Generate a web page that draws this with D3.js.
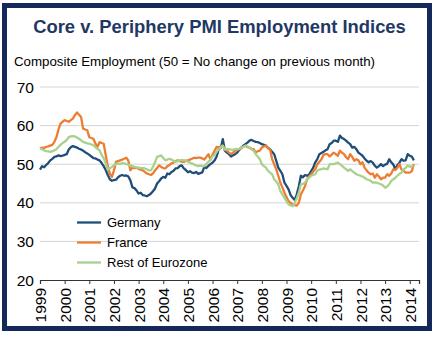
<!DOCTYPE html>
<html>
<head>
<meta charset="utf-8">
<script src="https://cdn.jsdelivr.net/npm/d3@7"></script>
<style>
  body { margin: 0; background: #fff; }
  svg { display: block; font-family: "Liberation Sans", Arial, sans-serif; }
</style>
</head>
<body>
<div id="chart"></div>
<script>
// monthly values, Jan 1999 .. Mar 2014
let germany = [
    48.6, 49.5, 49.2, 49.8, 50.3, 51.0, 51.4, 51.9, 52.0, 52.3, 52.1, 52.2,
    52.4, 52.6, 53.8, 54.4, 54.7, 54.5, 54.3, 54.0, 53.8, 53.5, 53.1, 52.8,
    52.4, 52.0, 51.6, 51.5, 51.2, 51.0, 50.3, 49.5, 48.5, 47.2, 46.1, 45.7,
    45.9, 46.0, 46.6, 47.0, 47.2, 47.0, 47.1, 46.8, 45.8, 44.0, 43.8, 43.2,
    42.4, 42.6, 42.0, 41.9, 41.7, 42.0, 42.4, 43.0, 43.7, 45.0, 45.6, 46.3,
    46.7, 46.5, 47.6, 47.4, 48.0, 48.3, 48.9, 49.0, 49.5, 49.7, 48.9, 48.5,
    47.9, 48.2, 47.8, 47.7, 48.0, 47.5, 47.7, 47.9, 49.3, 49.0, 49.6, 50.0,
    50.4, 51.0, 52.0, 53.9, 54.2, 56.5, 53.5, 53.0, 52.6, 52.0, 52.3, 52.6,
    53.0, 53.7, 54.3, 54.8, 55.2, 55.6, 56.1, 56.3, 56.0, 55.8, 55.7, 55.5,
    55.2, 55.0, 54.8, 54.2, 53.9, 53.2, 52.6, 50.9, 49.1, 48.3, 47.4, 45.2,
    44.4, 43.5, 42.0, 41.3, 40.7, 42.2, 44.3, 47.0, 46.6, 47.2, 47.0, 47.3,
    48.2, 49.1, 50.5, 51.3, 52.6, 52.9, 53.2, 53.6, 53.9, 55.2, 55.5, 56.1,
    56.1, 55.8, 57.4, 56.8, 56.5, 56.1, 55.6, 55.2, 54.3, 54.5, 53.9, 53.0,
    52.6, 52.2, 51.5, 50.9, 50.5, 50.8, 50.4, 49.6, 49.1, 49.5, 50.0, 49.5,
    49.9, 50.1, 51.3, 50.5, 49.9, 48.7, 49.8, 50.4, 51.3, 50.9, 51.0, 52.6,
    52.2, 52.0, 51.0
]
let france = [
    54.1, 54.3, 54.2, 54.5, 54.6, 54.8, 55.0, 55.8, 57.0, 59.0, 60.5, 61.0,
    61.4, 61.2, 61.0, 61.4, 61.8, 62.7, 63.4, 62.8, 62.2, 59.2, 59.0, 58.8,
    57.0, 56.8, 56.6, 55.3, 54.5, 55.7, 55.5, 55.3, 52.4, 49.5, 47.5, 46.7,
    48.4, 50.6, 50.8, 51.0, 51.2, 51.4, 51.7, 50.9, 48.4, 49.1, 49.0, 49.1,
    48.8, 48.6, 48.4, 48.0, 47.6, 47.4, 47.2, 47.6, 48.4, 49.0, 49.7, 49.3,
    49.0, 48.9, 49.5, 49.8, 50.2, 50.4, 50.8, 51.0, 50.8, 50.7, 50.6, 50.9,
    51.0, 51.2, 51.4, 51.7, 51.6, 51.7, 51.7, 51.5, 51.2, 51.9, 52.6, 51.1,
    52.5, 53.5, 54.5, 54.3, 54.6, 54.8, 53.8, 53.5, 53.0, 52.6, 53.0, 53.5,
    53.7, 53.9, 54.2, 54.5, 54.8, 54.4, 54.3, 54.0, 53.9, 53.0, 53.4, 53.5,
    54.3, 54.6, 54.8, 54.2, 53.9, 51.3, 50.0, 48.7, 47.0, 45.2, 44.0, 42.6,
    41.5, 40.4, 40.0, 39.6, 39.4, 39.3, 40.0, 42.2, 43.2, 44.3, 46.1, 46.8,
    47.4, 48.1, 48.7, 50.0, 50.6, 51.3, 52.4, 52.6, 52.6, 52.0, 52.5, 53.0,
    52.6, 52.2, 53.5, 53.0, 52.6, 51.8, 51.3, 52.6, 51.9, 50.9, 51.3, 51.0,
    50.0, 50.5, 49.1, 48.4, 47.8, 47.4, 47.6, 46.5, 47.4, 46.8, 46.1, 46.5,
    46.5, 47.4, 47.0, 47.6, 48.7, 48.5, 49.1, 50.0, 48.6, 48.3, 47.8, 47.8,
    47.8, 48.2, 50.0
]
let restOfEurozone = [
    54.1, 53.9, 53.6, 53.4, 53.3, 53.2, 53.4, 53.6, 53.9, 54.5, 55.0, 55.5,
    55.8, 56.3, 57.0, 57.2, 57.3, 57.2, 56.9, 56.6, 56.2, 55.8, 55.6, 55.4,
    55.3, 55.1, 54.9, 54.4, 54.0, 53.6, 52.4, 51.6, 50.2, 48.6, 48.9, 49.3,
    49.7, 50.0, 50.2, 50.1, 50.3, 50.2, 50.0, 49.9, 49.7, 49.5, 49.3, 49.2,
    49.1, 49.0, 49.0, 48.9, 48.7, 48.4, 48.4, 49.3, 50.5, 51.9, 52.1, 52.3,
    51.6, 51.0, 51.2, 51.4, 51.2, 50.9, 50.6, 50.8, 51.0, 51.1, 51.0, 51.0,
    50.6, 50.4, 50.2, 49.9, 49.7, 49.5, 49.6, 49.5, 49.5, 50.1, 50.6, 51.2,
    52.0, 52.4, 53.2, 53.9, 54.3, 54.8, 53.8, 53.9, 53.9, 53.8, 53.7, 53.9,
    53.9, 54.0, 54.3, 54.5, 54.8, 54.6, 54.3, 53.8, 53.5, 52.6, 52.0, 51.3,
    50.0, 49.5, 49.1, 48.3, 47.8, 47.4, 46.1, 45.5, 44.8, 43.0, 42.2, 41.3,
    40.4, 39.6, 39.3, 39.1, 40.0, 41.2, 42.6, 44.8, 44.9, 45.2, 46.1, 46.5,
    47.0, 47.2, 47.4, 48.3, 48.6, 48.7, 48.9, 48.8, 48.7, 50.0, 50.0, 50.0,
    50.2, 50.4, 50.0, 49.6, 49.1, 48.7, 48.3, 48.7, 48.2, 47.8, 47.4, 47.2,
    47.0, 46.8, 46.5, 46.1, 45.9, 45.7, 45.2, 45.3, 45.2, 45.0, 44.8, 44.5,
    43.9, 44.2, 44.8, 45.7, 46.1, 46.5, 47.0, 47.5, 47.8, 48.7, 49.0, 49.7,
    49.3, 49.5, 49.5
]
let seriesNames = ['Germany', 'France', 'Rest of Eurozone']
let colors = ['#1f4e79', '#ed7d31', '#a9d18e']
let years = d3.range(1999, 2015)
let yTicks = [20, 30, 40, 50, 60, 70]

var width = 434, height = 337;
var svg = d3.select('#chart').append('svg')
    .attr('width', width)
    .attr('height', height)

// frame
svg.append('rect')
    .attr('x', 4.5).attr('y', 5.5)
    .attr('width', 425).attr('height', 323)
    .attr('fill', 'none')
    .attr('stroke', '#14285a')
    .attr('stroke-width', 5)

svg.append('text')
    .attr('x', 219.5).attr('y', 33)
    .attr('text-anchor', 'middle')
    .attr('font-size', 18.4)
    .attr('font-weight', 'bold')
    .attr('fill', '#1f3864')
    .text('Core v. Periphery PMI Employment Indices')

svg.append('text')
    .attr('x', 14).attr('y', 66)
    .attr('font-size', 13.3)
    .attr('fill', '#000')
    .text('Composite Employment (50 = No change on previous month)')

var x = d3.scaleLinear().domain([0, 184.5]).range([40, 419])
var y = d3.scaleLinear().domain([20, 70]).range([280, 87])

// gridlines
svg.append('g')
    .selectAll('line')
    .data(yTicks.filter(d => d > 20))
    .enter()
    .append('line')
    .attr('x1', 40).attr('x2', 419)
    .attr('y1', d => y(d)).attr('y2', d => y(d))
    .attr('stroke', '#d4d4d4')
    .attr('stroke-width', 1)

// y labels
svg.append('g')
    .selectAll('text')
    .data(yTicks)
    .enter()
    .append('text')
    .attr('x', 34)
    .attr('y', d => y(d))
    .attr('dy', '0.36em')
    .attr('text-anchor', 'end')
    .attr('font-size', 15.5)
    .attr('fill', '#000')
    .text(d => d)

// x axis
var xAxis = d3.axisBottom(x)
    .tickValues(years.map(d => (d - 1999) * 12))
    .tickSize(4)
    .tickFormat((d) => 1999 + d / 12)

var gx = svg.append('g')
    .attr('transform', 'translate(0,' + y(20) + ')')
    .call(xAxis)
gx.select('.domain').attr('stroke', '#333').attr('stroke-width', 1.2)
gx.selectAll('.tick line').attr('stroke', '#333')
gx.selectAll('.tick text')
    .attr('font-family', '"Liberation Sans", Arial, sans-serif')
    .attr('font-size', 15.5)
    .attr('fill', '#000')
    .attr('text-anchor', 'end')
    .attr('transform', 'rotate(-90)')
    .attr('x', -8)
    .attr('y', 0)
    .attr('dy', '0.36em')

// lines
var line = d3.line()
    .x((d, i) => x(i))
    .y(d => y(d))

let allSeries = [germany, france, restOfEurozone]
svg.append('g')
    .selectAll('path')
    .data(allSeries)
    .enter()
    .append('path')
    .attr('d', d => line(d))
    .attr('fill', 'none')
    .attr('stroke', (d, i) => colors[i])
    .attr('stroke-width', 2.3)
    .attr('stroke-linejoin', 'round')

// legend
var legend = svg.append('g')
    .selectAll('g')
    .data(seriesNames)
    .enter()
    .append('g')
    .attr('transform', (d, i) => 'translate(77,' + (222.5 + i * 20) + ')')

legend.append('line')
    .attr('x1', 0).attr('x2', 24)
    .attr('stroke', (d, i) => colors[i])
    .attr('stroke-width', 2.3)

legend.append('text')
    .attr('x', 30)
    .attr('dy', '0.36em')
    .attr('font-size', 13)
    .attr('fill', '#000')
    .text(d => d)
</script>
</body>
</html>
